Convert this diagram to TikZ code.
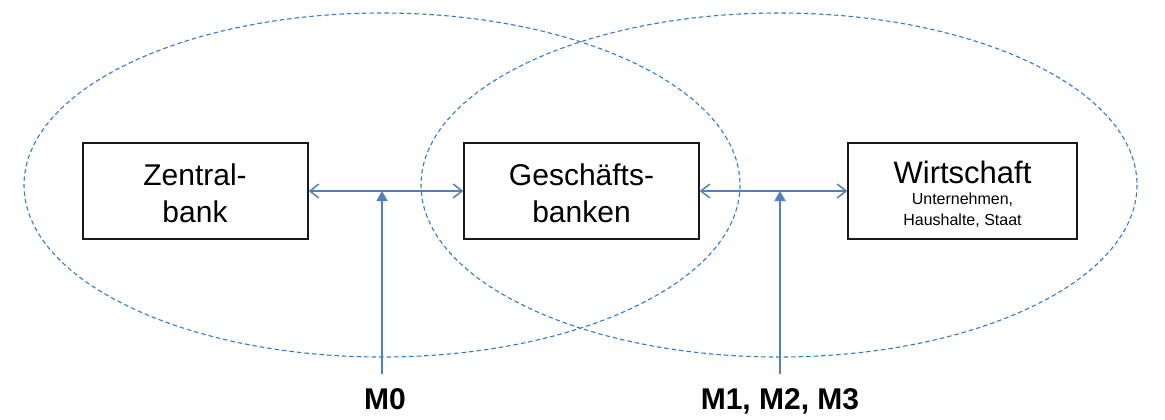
\documentclass[tikz,border=0pt]{standalone}
\usepackage{fontspec}
\setmainfont{Liberation Sans}
\usetikzlibrary{arrows.meta}
\definecolor{flow}{RGB}{79,129,189}
\definecolor{ring}{RGB}{46,125,205}
\begin{document}
\begin{tikzpicture}[x=1pt,y=-1pt,
  ringline/.style={draw=ring, line width=1.1pt, dash pattern=on 4.5pt off 3pt},
  box/.style={draw=black!90, line width=1.3pt, minimum height=96pt, inner sep=0pt},
  boxtext/.style={inner sep=0pt, anchor=base, font=\fontsize{30}{36}\selectfont},
  bigtext/.style={inner sep=0pt, anchor=base, font=\fontsize{31}{36}\selectfont},
  smalltext/.style={inner sep=0pt, anchor=base, font=\fontsize{16}{19}\selectfont},
  lab/.style={inner sep=0pt, anchor=base, font=\fontsize{30}{36}\selectfont\bfseries},
  dbl/.style={draw=flow, line width=1.8pt, {Straight Barb[length=9pt,width=14pt,line width=1.5pt]}-{Straight Barb[length=9pt,width=14pt,line width=1.5pt]}},
  up/.style={draw=flow, line width=1.8pt, -{Triangle[length=10pt,width=11pt]}}
]
\useasboundingbox (0,0) rectangle (1165,420);
% ellipses
\draw[ringline] (382,185) ellipse [x radius=358, y radius=172];
\draw[ringline] (779,185) ellipse [x radius=358, y radius=172];
% boxes
\node[box, minimum width=225pt] (zb) at (195.5,191) {};
\node[boxtext] (zb1) at (195,185) {Zentral-};
\node[boxtext] (zb2) at (195,222) {bank};
\node[box, minimum width=235pt] (gb) at (581.5,191) {};
\node[boxtext] (gb1) at (581.5,185) {Geschäfts-};
\node[boxtext] (gb2) at (581.5,222) {banken};
\node[box, minimum width=229pt] (ws) at (962.5,191) {};
\node[bigtext] (wst) at (962.5,183) {Wirtschaft};
\node[smalltext] (ws1) at (962.5,204) {Unternehmen,};
\node[smalltext] (ws2) at (962.5,225.7) {Haushalte, Staat};
% connectors
\draw[dbl] (zb.east) -- (gb.west);
\draw[dbl] (gb.east) -- (ws.west);
\coordinate (m0) at (382,374);
\coordinate (m1) at (780,374);
\draw[up] (m0) -- (m0 |- zb.east);
\draw[up] (m1) -- (m1 |- gb.east);
% labels
\node[lab] (l0) at (385,409) {M0};
\node[lab] (l1) at (780,409) {M1, M2, M3};
\end{tikzpicture}
\end{document}
